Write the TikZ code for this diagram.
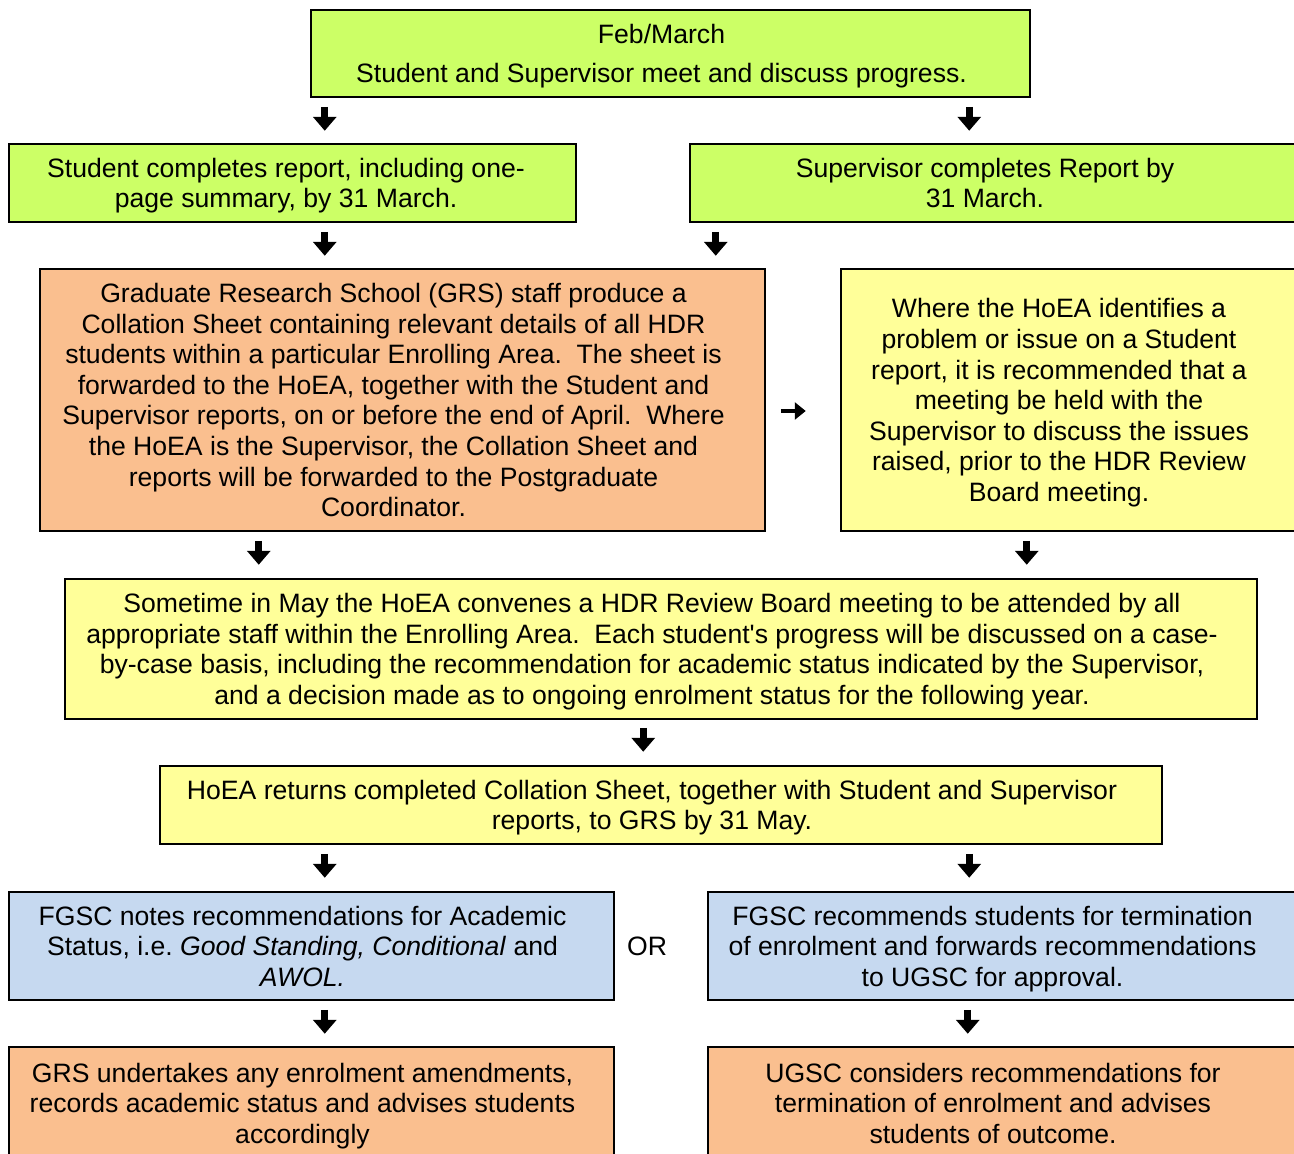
\documentclass[tikz,border=0pt]{standalone}
\usepackage{fontspec}
\setmainfont{Liberation Sans}
\usepackage{xcolor}
\usetikzlibrary{arrows.meta}

\definecolor{boxgreen}{HTML}{CCFF66}
\definecolor{boxorange}{HTML}{FABF8F}
\definecolor{boxyellow}{HTML}{FFFF99}
\definecolor{boxblue}{HTML}{C6D9F0}

\tikzset{
	rskip/.style={execute at begin node={\centering\rightskip=#1 plus 1fil\spaceskip=\fontdimen2\font\relax}},
	box/.style={draw=black, line width=1.5pt, align=center, inner sep=0pt,
		text width=#1-10pt, minimum width=#1, rskip=18pt,
		execute at end node={\par\kern-\prevdepth}},
	downarr/.style={line width=7pt, -{Triangle[length=14pt,width=23pt]}},
	rightarr/.style={line width=4.5pt, -{Triangle[length=11pt,width=17pt]}}
}

\begin{document}
\begin{tikzpicture}[x=1pt,y=-1pt,font=\fontsize{26.6}{30.6}\selectfont]
	\useasboundingbox (0,0) rectangle (1294,1154);
	\clip (0,0) rectangle (1294,1154);

	\node[box=719pt, fill=boxgreen, minimum height=87pt] (feb) at (670.5,53.5)
		{Feb/March\\[8pt] Student and Supervisor meet and discuss progress.};
	\node[box=567pt, fill=boxgreen, minimum height=78pt, rskip=13pt] (stud) at (292.5,183)
		{Student completes report, including one-\\page summary, by 31 March.};
	\node[box=610pt, fill=boxgreen, minimum height=78pt, rskip=20pt] (sup) at (995,183)
		{Supervisor completes Report by\\31 March.};

	\node[box=725pt, fill=boxorange, minimum height=262pt] (grs) at (402.5,400)
		{Graduate Research School (GRS) staff produce a\\Collation Sheet containing relevant details of all HDR\\students within a particular Enrolling Area.\ \ The sheet is\\forwarded to the HoEA, together with the Student and\\Supervisor reports, on or before the end of April.\ \ Where\\the HoEA is the Supervisor, the Collation Sheet and\\reports will be forwarded to the Postgraduate\\Coordinator.};
	\node[box=459pt, fill=boxyellow, minimum height=262pt, rskip=23pt] (hoea) at (1070.5,400)
		{Where the HoEA identifies a\\problem or issue on a Student\\report, it is recommended that a\\meeting be held with the\\Supervisor to discuss the issues\\raised, prior to the HDR Review\\Board meeting.};

	\node[box=1192pt, fill=boxyellow, minimum height=140pt] (board) at (661,649)
		{Sometime in May the HoEA convenes a HDR Review Board meeting to be attended by all\\appropriate staff within the Enrolling Area.\ \ Each student\textquotesingle s progress will be discussed on a case-\\by-case basis, including the recommendation for academic status indicated by the Supervisor,\\and a decision made as to ongoing enrolment status for the following year.};
	\node[box=1002pt, fill=boxyellow, minimum height=78pt] (returns) at (661,805)
		{HoEA returns completed Collation Sheet, together with Student and Supervisor\\reports, to GRS by 31 May.};

	\node[box=605pt, fill=boxblue, minimum height=108pt] (fgsc) at (311.5,946)
		{FGSC notes recommendations for Academic\\Status, i.e.\ \textit{Good Standing, Conditional} and\\\textit{AWOL.}};
	\node (or) at (647,946) {OR};
	\node[box=592pt, fill=boxblue, minimum height=108pt, rskip=23pt] (term) at (1004,946)
		{FGSC recommends students for termination\\of enrolment and forwards recommendations\\to UGSC for approval.};

	\node[box=605pt, fill=boxorange, minimum height=112pt] (grsb) at (311.5,1103)
		{GRS undertakes any enrolment amendments,\\records academic status and advises students\\accordingly};
	\node[box=592pt, fill=boxorange, minimum height=112pt, rskip=22pt] (ugsc) at (1004,1103)
		{UGSC considers recommendations for\\termination of enrolment and advises\\students of outcome.};

	\draw[downarr] (feb.south west) ++(14.5,9) -- ++(0,24);
	\draw[downarr] (feb.south east) ++(-61.5,9) -- ++(0,24);
	\draw[downarr] (stud.south west) ++(316.5,9) -- ++(0,24);
	\draw[downarr] (sup.south west) ++(26.5,9) -- ++(0,24);
	\draw[downarr] (grs.south west) ++(219.5,9) -- ++(0,24);
	\draw[downarr] (hoea.south west) ++(186.5,9) -- ++(0,24);
	\draw[downarr] (board.south west) ++(579,8) -- ++(0,24);
	\draw[downarr] (returns.south west) ++(165.5,9) -- ++(0,24);
	\draw[downarr] (returns.south east) ++(-193.5,9) -- ++(0,24);
	\draw[downarr] (fgsc.south west) ++(316.5,9) -- ++(0,24);
	\draw[downarr] (term.south west) ++(260.5,9) -- ++(0,24);
	\draw[rightarr] (grs.east) ++(15,11) -- ++(25,0);
\end{tikzpicture}
\end{document}
